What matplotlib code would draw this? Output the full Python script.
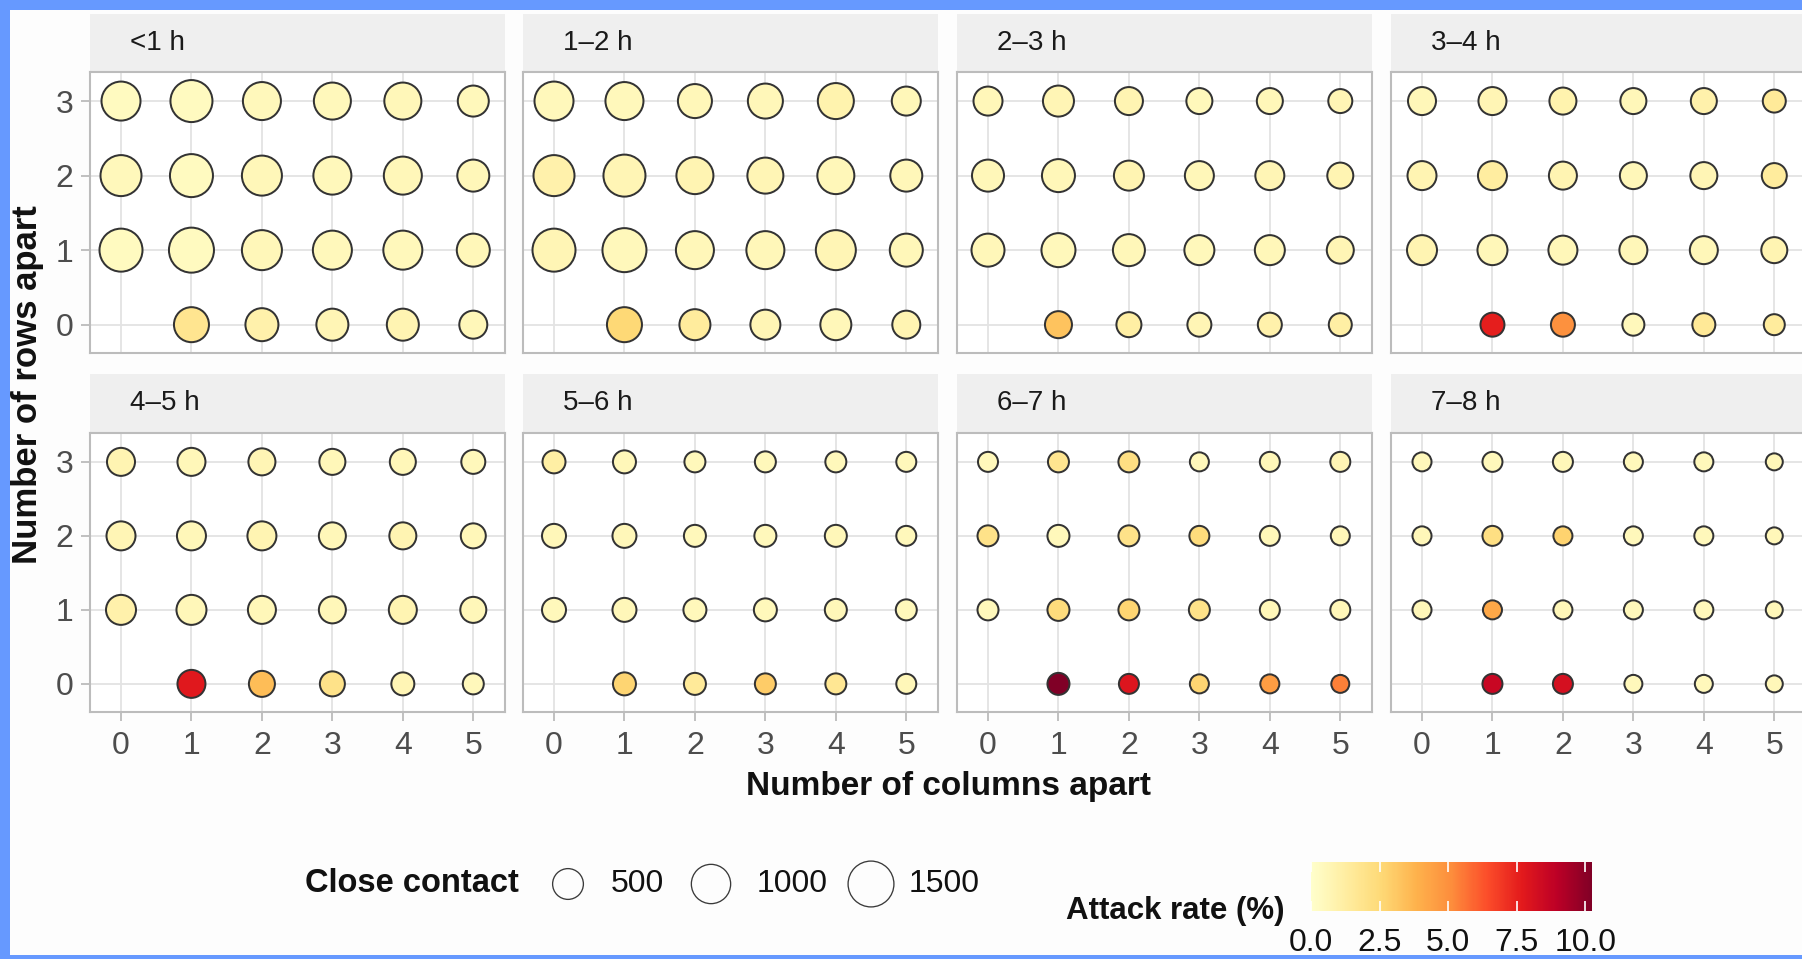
import matplotlib
matplotlib.use("Agg")
import matplotlib.pyplot as plt
import numpy as np
from matplotlib.colors import Normalize
from matplotlib.cm import ScalarMappable
from matplotlib.patches import Rectangle

plt.rcParams['font.family'] = ['Liberation Sans', 'DejaVu Sans']

# facet labels (exposure duration)
durations = ["<1 h", "1\u20132 h", "2\u20133 h", "3\u20134 h",
             "4\u20135 h", "5\u20136 h", "6\u20137 h", "7\u20138 h"]
cols_apart = [0, 1, 2, 3, 4, 5]
rows_apart = [0, 1, 2, 3]

# close contacts, one row per "rows apart" (0..3), columns 0..5; seat (0, 0) is the index case
cc_h0 = [[np.nan, 768, 652, 598, 598, 404],
         [1326, 1489, 1099, 1028, 1028, 652],
         [1172, 1326, 1099, 960, 960, 598],
         [1028, 1248, 960, 894, 894, 546]]
cc_h1 = [[np.nan, 768, 546, 496, 546, 404],
         [1326, 1406, 960, 960, 1099, 652],
         [1172, 1248, 894, 830, 894, 598],
         [1028, 960, 709, 768, 830, 449]]
cc_h2 = [[np.nan, 362, 284, 248, 248, 215],
         [652, 709, 598, 496, 496, 362],
         [598, 652, 496, 449, 449, 322],
         [449, 546, 404, 322, 322, 248]]
cc_h3 = [[np.nan, 248, 248, 185, 215, 156],
         [496, 496, 449, 404, 404, 322],
         [449, 449, 404, 362, 362, 284],
         [404, 404, 362, 322, 322, 215]]
cc_h4 = [[np.nan, 404, 322, 284, 215, 156],
         [496, 496, 404, 362, 404, 322],
         [449, 449, 449, 362, 362, 284],
         [404, 404, 362, 322, 322, 248]]
cc_h5 = [[np.nan, 215, 185, 156, 156, 130],
         [248, 248, 215, 215, 185, 156],
         [248, 248, 185, 185, 185, 130],
         [215, 215, 156, 156, 156, 130]]
cc_h6 = [[np.nan, 185, 130, 107, 107, 85],
         [156, 185, 156, 156, 130, 130],
         [156, 185, 156, 130, 130, 107],
         [130, 156, 156, 107, 130, 130]]
cc_h7 = [[np.nan, 130, 130, 85, 85, 66],
         [107, 107, 107, 107, 107, 66],
         [107, 130, 107, 107, 107, 66],
         [107, 130, 130, 107, 107, 66]]

# attack rate (%) in the same layout
ar_h0 = [[np.nan, 1.8, 1.0, 0.7, 0.8, 0.6],
         [0.4, 0.4, 0.6, 0.5, 0.5, 0.6],
         [0.5, 0.4, 0.6, 0.5, 0.6, 0.6],
         [0.4, 0.4, 0.5, 0.5, 0.6, 0.5]]
ar_h1 = [[np.nan, 2.6, 1.4, 0.7, 0.6, 0.8],
         [0.7, 0.5, 0.6, 0.6, 0.7, 0.6],
         [1.0, 0.7, 0.8, 0.7, 0.6, 0.6],
         [0.5, 0.5, 0.6, 0.6, 0.9, 0.6]]
ar_h2 = [[np.nan, 3.3, 1.2, 0.7, 1.0, 1.2],
         [0.6, 0.5, 0.6, 0.5, 0.6, 0.7],
         [0.6, 0.6, 0.8, 0.6, 0.7, 0.8],
         [0.6, 0.7, 0.8, 0.5, 0.6, 0.7]]
ar_h3 = [[np.nan, 7.6, 5.0, 0.5, 1.6, 1.4],
         [0.8, 0.6, 0.6, 0.6, 0.6, 0.8],
         [0.8, 1.3, 0.8, 0.6, 0.7, 1.4],
         [0.6, 0.7, 0.9, 0.6, 1.0, 1.5]]
ar_h4 = [[np.nan, 7.8, 3.5, 2.0, 0.7, 0.5],
         [1.0, 0.6, 0.6, 0.6, 0.8, 0.6],
         [0.7, 0.6, 0.8, 0.6, 0.8, 0.6],
         [0.8, 0.6, 0.7, 0.6, 0.6, 0.5]]
ar_h5 = [[np.nan, 2.7, 1.5, 3.0, 1.7, 0.6],
         [0.5, 0.6, 0.5, 0.5, 0.6, 0.5],
         [0.6, 0.6, 0.5, 0.5, 0.6, 0.5],
         [1.2, 0.6, 0.5, 0.5, 0.5, 0.5]]
ar_h6 = [[np.nan, 10.25, 7.9, 2.7, 4.6, 5.4],
         [0.5, 2.4, 2.7, 2.0, 0.6, 0.6],
         [2.0, 0.5, 2.0, 2.4, 0.6, 0.6],
         [0.5, 1.8, 2.2, 0.5, 0.6, 0.7]]
ar_h7 = [[np.nan, 8.6, 8.2, 0.5, 0.5, 0.6],
         [0.6, 4.2, 0.6, 0.5, 0.5, 0.6],
         [0.6, 2.2, 2.8, 0.5, 0.5, 0.6],
         [0.5, 0.5, 0.6, 0.5, 0.5, 0.6]]

size_breaks = [500, 1000, 1500]
rate_ticks = [0.0, 2.5, 5.0, 7.5, 10.0]

contacts = [cc_h0, cc_h1, cc_h2, cc_h3, cc_h4, cc_h5, cc_h6, cc_h7]
rates = [ar_h0, ar_h1, ar_h2, ar_h3, ar_h4, ar_h5, ar_h6, ar_h7]

W, H = 1802, 959
DPI = 100
EDGE_PX = 2.0


def rect(x0, y0, x1, y1):
    # pixel box (top-left origin) -> figure fraction
    return [x0 / W, 1 - y1 / H, (x1 - x0) / W, (y1 - y0) / H]


def marker_area(count, edge_px=EDGE_PX):
    # outer circle diameter in pixels grows with sqrt of the count
    d_px = 11.5 + 0.92 * np.sqrt(np.asarray(count, dtype=float))
    return ((d_px - edge_px) * 72 / DPI) ** 2


cmap = plt.get_cmap("YlOrRd")
vmax = np.nanmax([np.nanmax(r) for r in rates])
norm = Normalize(vmin=0, vmax=vmax)

fig = plt.figure(figsize=(W / DPI, H / DPI), dpi=DPI)
fig.patch.set_facecolor("#fdfdfd")

# full-figure layer for frame, titles and legend
ov = fig.add_axes([0, 0, 1, 1])
ov.set_xlim(0, W)
ov.set_ylim(H, 0)
ov.axis("off")
frame_blue = "#6699ff"
ov.add_patch(Rectangle((0, 0), W, 10, color=frame_blue, lw=0))
ov.add_patch(Rectangle((0, 0), 10, H, color=frame_blue, lw=0))
ov.add_patch(Rectangle((0, 955), W, 4, color=frame_blue, lw=0))

panel_left = [90, 523, 957, 1391]
panel_w = 415
strip_top = [14, 374]
panel_top = [72, 433]
panel_bot = [353, 712]

xx, yy = np.meshgrid(cols_apart, rows_apart)

for i, label in enumerate(durations):
    r, c = divmod(i, 4)
    x0 = panel_left[c]

    sax = fig.add_axes(rect(x0, strip_top[r], x0 + panel_w, panel_top[r]))
    sax.set_facecolor("#efefef")
    sax.set_xticks([])
    sax.set_yticks([])
    for s in sax.spines.values():
        s.set_visible(False)
    sax.text(40 / panel_w, 0.5, label, transform=sax.transAxes,
             ha="left", va="center", fontsize=20, color="#1a1a1a")

    ax = fig.add_axes(rect(x0, panel_top[r], x0 + panel_w, panel_bot[r]))
    cnt = np.array(contacts[i], dtype=float)
    ar = np.array(rates[i], dtype=float)
    ok = ~np.isnan(cnt)
    ax.scatter(xx[ok], yy[ok], s=marker_area(cnt[ok]), c=ar[ok], cmap=cmap, norm=norm,
               edgecolors="#333333", linewidths=EDGE_PX * 72 / DPI, zorder=3)
    ax.set_xlim(-0.44, 5.45)
    ax.set_ylim(-0.38, 3.39)
    ax.set_xticks(cols_apart)
    ax.set_yticks(rows_apart)
    ax.grid(True, color="#e3e3e3", lw=1.3)
    ax.set_axisbelow(True)
    for s in ax.spines.values():
        s.set_color("#bcbcbc")
        s.set_linewidth(1.5)
    ax.tick_params(length=6.5, width=1.2, color="#b5b5b5", labelsize=23,
                   labelcolor="#4d4d4d")
    ax.tick_params(axis="x", pad=7)
    ax.tick_params(axis="y", pad=5.5)
    if c != 0:
        ax.tick_params(axis="y", length=0, labelleft=False)
    if r != 1:
        ax.tick_params(axis="x", length=0, labelbottom=False)

ov.text(948, 787, "Number of columns apart", ha="center", va="center",
        fontsize=24, fontweight="bold", color="#111111")
ov.text(28, 385, "Number of rows apart", ha="center", va="center", rotation=90,
        fontsize=25, fontweight="bold", color="#111111")

# size legend
ov.text(305, 884, "Close contact", ha="left", va="center", fontsize=23.5,
        fontweight="bold", color="#111111")
key_x = [568, 711, 871]
lab_x = [611, 757, 909]
ov.scatter(key_x, [884] * 3, s=marker_area(size_breaks, 1.3), facecolors="none",
           edgecolors="#3a3a3a", linewidths=0.95)
for lx, b in zip(lab_x, size_breaks):
    ov.text(lx, 884, str(b), ha="left", va="center", fontsize=23, color="#111111")

# colour legend
ov.text(1066, 911, "Attack rate (%)", ha="left", va="center", fontsize=22.5,
        fontweight="bold", color="#111111")
cax = fig.add_axes(rect(1311, 862, 1592, 911))
cb = fig.colorbar(ScalarMappable(norm=norm, cmap=cmap), cax=cax,
                  orientation="horizontal", ticks=rate_ticks)
cb.outline.set_visible(False)
cax.set_xticklabels([f"{t:.1f}" for t in rate_ticks])
cax.xaxis.set_ticks_position("both")
cax.tick_params(axis="x", direction="in", length=7, width=1.2, colors="white",
                labelcolor="#111111", labelsize=23, pad=12, labeltop=False)

fig.savefig("out.png", dpi=DPI, facecolor=fig.get_facecolor())
